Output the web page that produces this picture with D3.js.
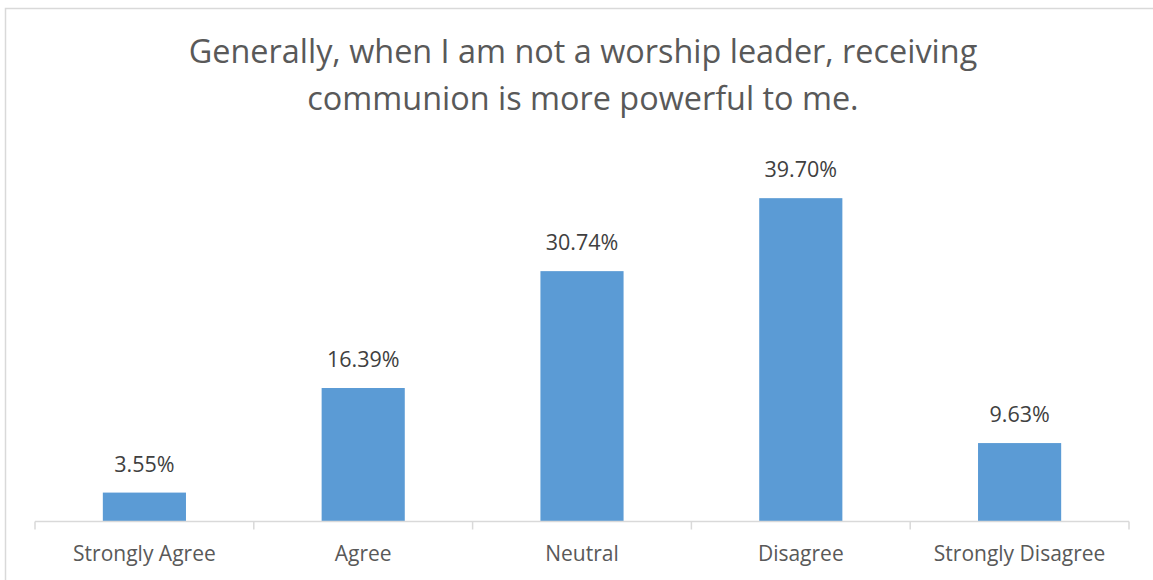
<!DOCTYPE html>
<html>
<head>
<meta charset="utf-8">
<script src="https://cdn.jsdelivr.net/npm/d3@7"></script>
<style>
  html, body { margin: 0; padding: 0; background: #fff; }
  svg { display: block; }
  text { font-family: "Open Sans", "Noto Sans", sans-serif; }
</style>
</head>
<body>
<svg id="chart" width="1153" height="580"></svg>
<script>
// Survey responses, percent of respondents
const categories = ["Strongly Agree", "Agree", "Neutral", "Disagree", "Strongly Disagree"];
const values = [3.55, 16.39, 30.74, 39.70, 9.63];
const titleLines = ["Generally, when I am not a worship leader, receiving", "communion is more powerful to me."];

const W = 1153, H = 580;
const svg = d3.select("#chart");

// outer chart frame
svg.append("rect")
  .attr("x", 5.5).attr("y", 8.5)
  .attr("width", W + 10).attr("height", H + 10)
  .attr("fill", "#fff")
  .attr("stroke", "#d9d9d9").attr("stroke-width", 1.5);

const plot = { left: 35, right: 1129, top: 155, bottom: 521.5 };

const x = d3.scaleBand().domain(categories).range([plot.left, plot.right]).padding(0);
const y = d3.scaleLinear().domain([0, 45]).range([plot.bottom, plot.top]);
const barW = x.bandwidth() * 0.38;

// title
svg.append("g").selectAll("text")
  .data(titleLines).join("text")
  .attr("x", 583)
  .attr("y", (d, i) => 63 + i * 46.5)
  .attr("text-anchor", "middle")
  .attr("font-size", 32.4)
  .attr("fill", "#595959")
  .text(d => d);

// bars
svg.append("g").selectAll("rect")
  .data(values).join("rect")
  .attr("x", (d, i) => x(categories[i]) + (x.bandwidth() - barW) / 2)
  .attr("y", d => y(d))
  .attr("width", barW)
  .attr("height", d => y(0) - y(d))
  .attr("fill", "#5b9bd5");

// value labels
svg.append("g").selectAll("text")
  .data(values).join("text")
  .attr("x", (d, i) => x(categories[i]) + x.bandwidth() / 2)
  .attr("y", d => y(d) - 21)
  .attr("text-anchor", "middle")
  .attr("font-size", 21.5)
  .attr("fill", "#404040")
  .text(d => d.toFixed(2) + "%");

// category axis
const axis = svg.append("g")
  .attr("transform", `translate(0,${plot.bottom})`)
  .call(d3.axisBottom(x).tickSize(0).tickPadding(0));
axis.select(".domain").attr("stroke", "#d9d9d9").attr("stroke-width", 1.5)
  .attr("d", `M${plot.left},0H${plot.right}`);
axis.selectAll(".tick text")
  .attr("y", 39.5).attr("dy", null)
  .attr("font-family", null)
  .attr("font-size", 21)
  .attr("fill", "#595959");

// tick marks between categories
const bounds = categories.map(c => x(c)).concat([x.range()[1]]);
axis.append("g").selectAll("line")
  .data(bounds).join("line")
  .attr("x1", d => d).attr("x2", d => d)
  .attr("y1", 0).attr("y2", 8)
  .attr("stroke", "#d9d9d9").attr("stroke-width", 1.5);
</script>
</body>
</html>
